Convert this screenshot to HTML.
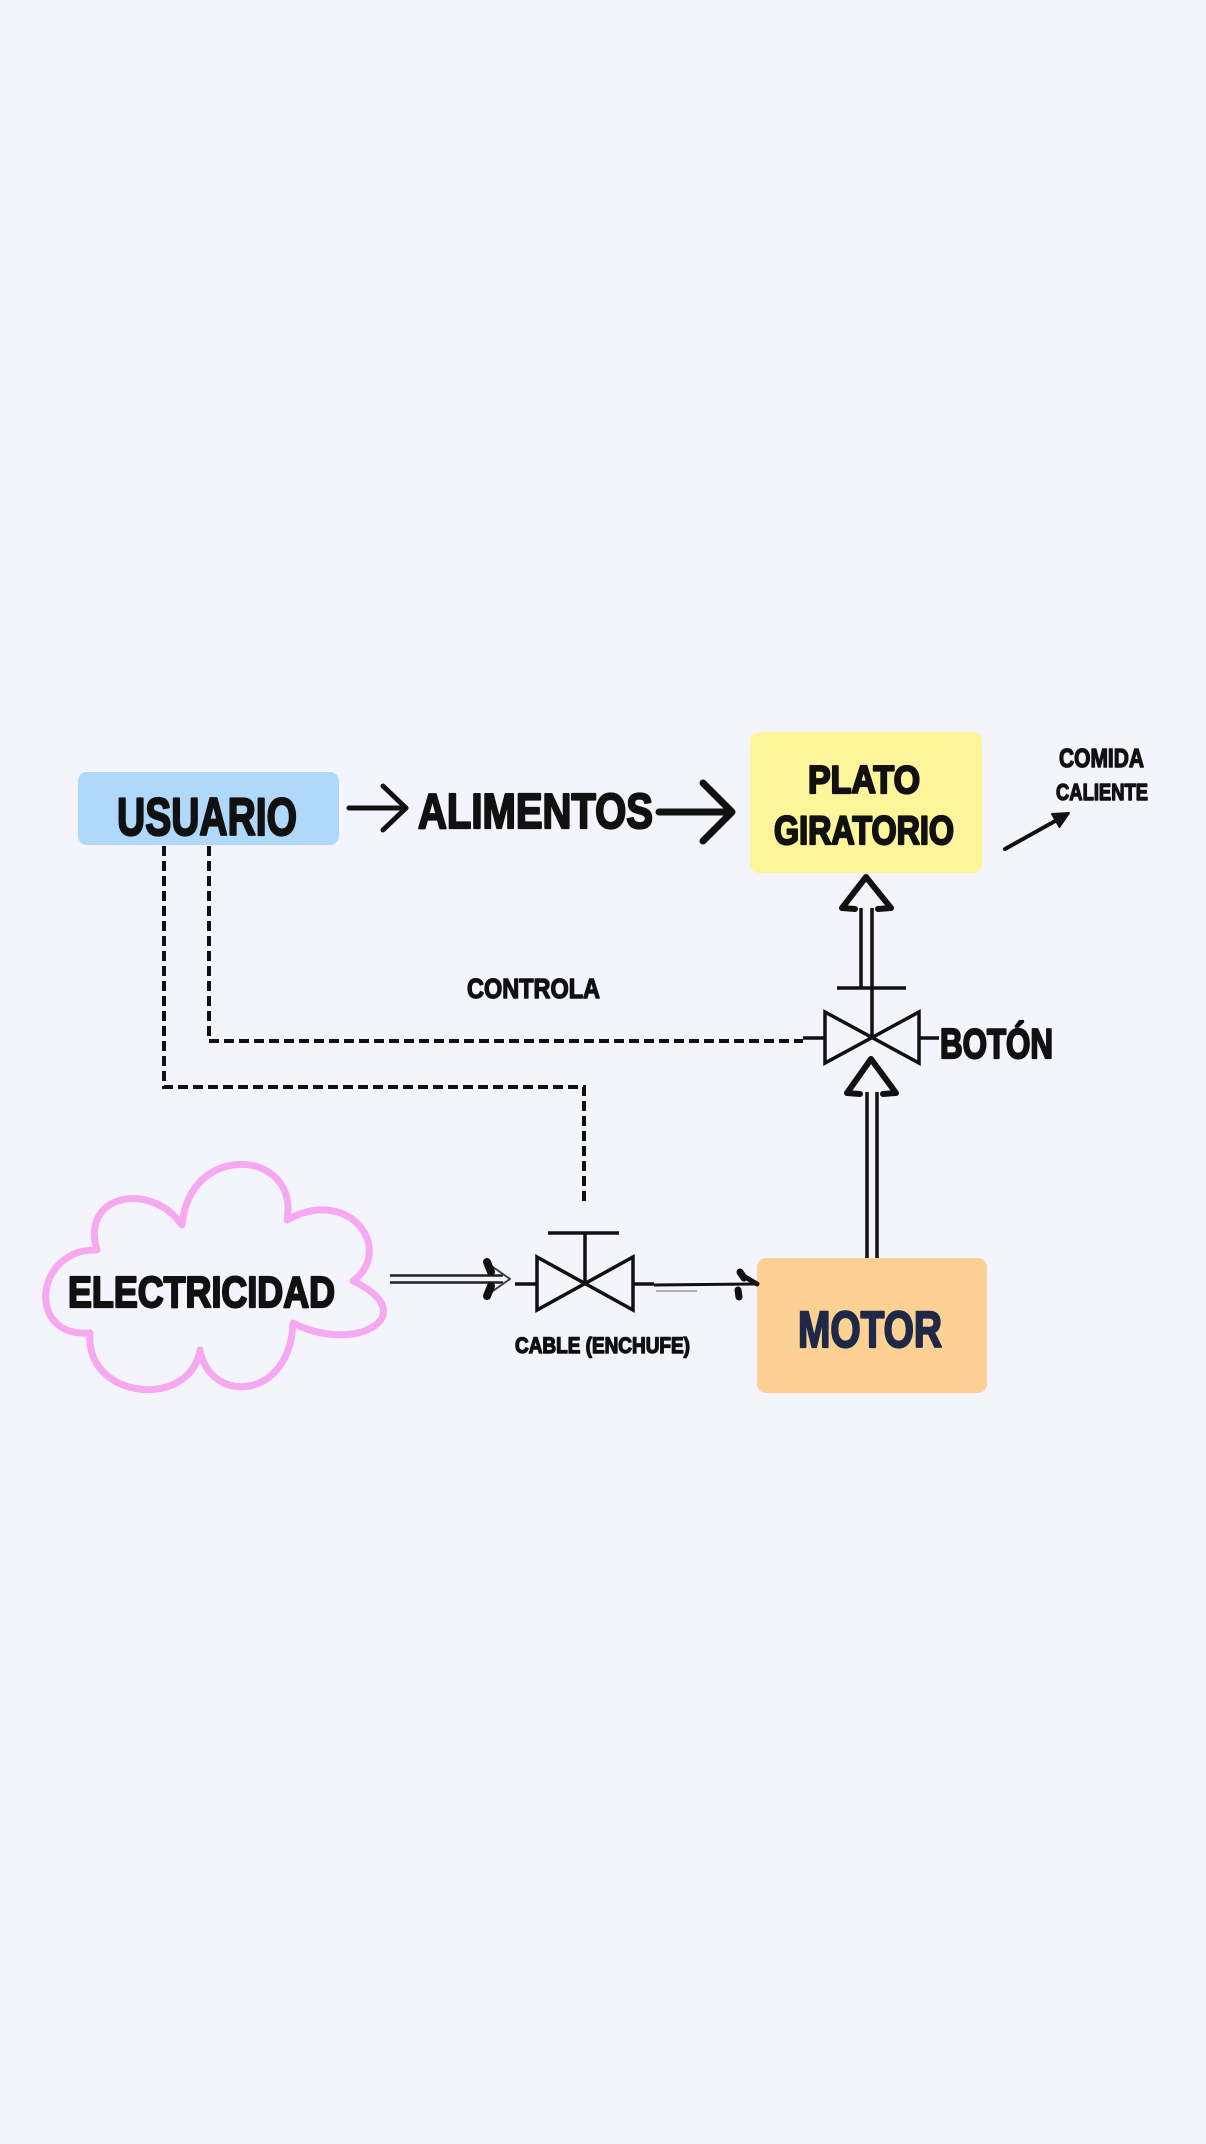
<!DOCTYPE html>
<html>
<head>
<meta charset="utf-8">
<style>
html,body{margin:0;padding:0;background:#f4f5fc;}
svg{display:block;}
text{font-family:"Liberation Sans",Arial,sans-serif;font-weight:bold;}
</style>
</head>
<body>
<svg width="1206" height="2144" viewBox="0 0 1206 2144" xmlns="http://www.w3.org/2000/svg">
<rect x="0" y="0" width="1206" height="2144" fill="#f4f5fc"/>

<!-- Boxes -->
<rect x="78" y="772" width="261" height="73" rx="9" fill="#b0d8fb"/>
<rect x="750" y="732" width="232" height="141" rx="9" fill="#fef59b"/>
<rect x="757" y="1258" width="230" height="135" rx="9" fill="#fdd193"/>

<!-- Cloud -->
<path d="M97,1250 C35,1248 25,1338 90,1333 C85,1400 190,1410 200,1350 C210,1405 290,1400 293,1323 C355,1355 425,1315 353,1281 C395,1250 350,1185 287,1220 C300,1150 190,1140 182,1225 C150,1180 80,1195 97,1250 Z" fill="none" stroke="#f6a8f1" stroke-width="7" stroke-linejoin="round"/>

<!-- Dashed connectors -->
<g fill="none" stroke="#111" stroke-width="4" stroke-dasharray="10 5">
  <path d="M209,846 V1041 H803"/>
  <path d="M164,846 V1087 H584 V1203"/>
</g>

<!-- Arrow USUARIO -> ALIMENTOS -->
<g fill="none" stroke="#111" stroke-width="5" stroke-linecap="round" stroke-linejoin="round">
  <path d="M349,808 H406"/>
  <path d="M383,786 L406,808 L383,830"/>
</g>
<!-- Arrow ALIMENTOS -> PLATO -->
<g fill="none" stroke="#111" stroke-width="7" stroke-linecap="round" stroke-linejoin="round">
  <path d="M659,812 H731"/>
  <path d="M703,783 L732,812 L703,841"/>
</g>

<!-- Arrow to COMIDA CALIENTE -->
<line x1="1005" y1="849" x2="1057" y2="820" stroke="#111" stroke-width="4" stroke-linecap="round"/>
<polygon points="1069,813 1059.5,827 1052,814" fill="#111" stroke="#111" stroke-width="2" stroke-linejoin="round"/>

<!-- Upper valve (BOTON) -->
<g fill="none" stroke="#111" stroke-width="3.5">
  <path d="M825,1012 L919,1063 L919,1012 L825,1063 Z"/>
  <line x1="803" y1="1038" x2="825" y2="1038"/>
  <line x1="919" y1="1038" x2="939" y2="1038"/>
  <line x1="872" y1="988" x2="872" y2="1037"/>
  <line x1="837" y1="988" x2="906" y2="988"/>
  <line x1="861" y1="988" x2="861" y2="908"/>
  <line x1="872" y1="988" x2="872" y2="908"/>
</g>
<path d="M855,909 L842,908 L866,877 L891,908 L878,909" fill="none" stroke="#111" stroke-width="6" stroke-linejoin="round" stroke-linecap="round"/>

<!-- Motor to valve double-line arrow -->
<g fill="none" stroke="#111" stroke-width="3.5">
  <line x1="867" y1="1258" x2="867" y2="1092"/>
  <line x1="877" y1="1258" x2="877" y2="1092"/>
</g>
<path d="M860,1094 L847,1093 L871,1059 L896,1093 L883,1094" fill="none" stroke="#111" stroke-width="6" stroke-linejoin="round" stroke-linecap="round"/>

<!-- Cable valve -->
<g fill="none" stroke="#111" stroke-width="3.5">
  <path d="M537,1257 L633,1310 L633,1257 L537,1310 Z"/>
  <line x1="515" y1="1284" x2="537" y2="1284"/>
  <line x1="633" y1="1284" x2="654" y2="1284"/>
  <line x1="585" y1="1233" x2="585" y2="1283"/>
  <line x1="548" y1="1233" x2="619" y2="1233"/>
</g>

<!-- Electricity -> valve double arrow -->
<g fill="none" stroke="#222" stroke-width="2.5">
  <line x1="390" y1="1275.5" x2="503" y2="1275.5"/>
  <line x1="390" y1="1282.5" x2="503" y2="1282.5"/>
</g>
<path d="M490,1265 L510,1279 L490,1293" fill="none" stroke="#444" stroke-width="2" stroke-linejoin="round"/>
<path d="M487,1262 L491,1272" stroke="#111" stroke-width="8" stroke-linecap="round"/>
<path d="M487,1296 L491,1286" stroke="#111" stroke-width="8" stroke-linecap="round"/>

<!-- Valve -> Motor arrow -->
<line x1="654" y1="1285" x2="754" y2="1284" stroke="#111" stroke-width="3"/>
<line x1="656" y1="1291" x2="697" y2="1291" stroke="#999" stroke-width="1.5"/>
<path d="M740,1274 L757,1284" stroke="#111" stroke-width="5" stroke-linecap="round"/>
<path d="M738,1290 L739,1297" stroke="#111" stroke-width="7" stroke-linecap="round"/>
<path d="M740,1272 L744,1278" stroke="#111" stroke-width="7" stroke-linecap="round"/>

<!-- Texts -->
<g fill="#111" stroke="#111" stroke-width="2.2" stroke-linejoin="round">
  <text x="117" y="835" font-size="53" textLength="180" lengthAdjust="spacingAndGlyphs">USUARIO</text>
  <text x="418" y="828" font-size="49" textLength="235" lengthAdjust="spacingAndGlyphs">ALIMENTOS</text>
  <text x="808" y="793" font-size="39" textLength="112" lengthAdjust="spacingAndGlyphs">PLATO</text>
  <text x="774" y="844" font-size="40" textLength="180" lengthAdjust="spacingAndGlyphs">GIRATORIO</text>
  <text x="940" y="1058" font-size="42" textLength="113" lengthAdjust="spacingAndGlyphs">BOTÓN</text>
  <text x="68" y="1307" font-size="44" textLength="267" lengthAdjust="spacingAndGlyphs">ELECTRICIDAD</text>
</g>
<g fill="#111" stroke="#111" stroke-width="1.4" stroke-linejoin="round">
  <text x="1059" y="767" font-size="26" textLength="85" lengthAdjust="spacingAndGlyphs">COMIDA</text>
  <text x="1056" y="800" font-size="23" textLength="92" lengthAdjust="spacingAndGlyphs">CALIENTE</text>
  <text x="467" y="998" font-size="28" textLength="133" lengthAdjust="spacingAndGlyphs">CONTROLA</text>
  <text x="515" y="1353" font-size="22" textLength="175" lengthAdjust="spacingAndGlyphs">CABLE (ENCHUFE)</text>
</g>
<text x="798" y="1347" font-size="51" textLength="144" lengthAdjust="spacingAndGlyphs" fill="#1f2947" stroke="#1f2947" stroke-width="2.2" stroke-linejoin="round">MOTOR</text>
</svg>
</body>
</html>
